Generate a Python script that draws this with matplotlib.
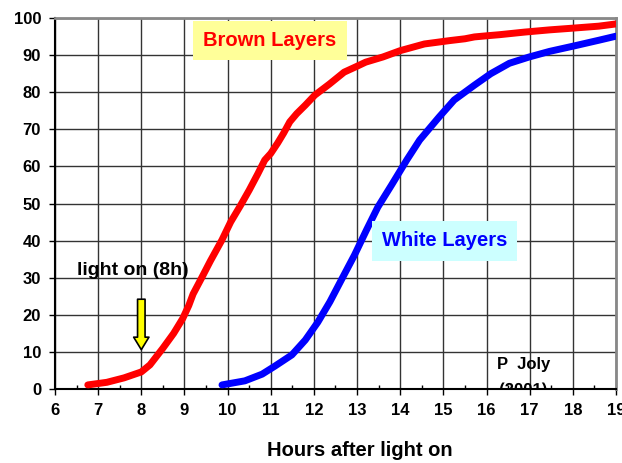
import matplotlib
matplotlib.use("Agg")
import matplotlib.pyplot as plt
from matplotlib.ticker import MultipleLocator
from matplotlib.textpath import TextPath
from matplotlib.patches import PathPatch
from matplotlib.font_manager import FontProperties
from matplotlib import transforms

plt.rcParams['font.family'] = ['Liberation Sans', 'DejaVu Sans']
plt.rcParams['font.weight'] = 'bold'

# hours after light on vs % of laying
brown_h = [6.76, 7.2, 7.6, 8.0, 8.2, 8.5, 8.75, 8.96, 9.1, 9.2, 9.4, 9.6, 9.87,
           10.07, 10.3, 10.5, 10.7, 10.86, 11.0, 11.16, 11.3, 11.44, 11.6, 11.8,
           12.02, 12.36, 12.7, 13.0, 13.2, 13.6, 14.0, 14.56, 15.14, 15.5, 15.72,
           16.0, 16.3, 16.88, 17.46, 18.04, 18.6, 19.0]
brown_pct = [1.1, 1.8, 3.0, 4.6, 6.5, 11.0, 15.0, 19.0, 22.5, 25.6, 30.0, 34.5, 40.2,
             45.0, 49.5, 53.6, 58.0, 61.7, 63.5, 66.3, 69.0, 72.0, 74.2, 76.5,
             79.2, 82.2, 85.4, 87.0, 88.1, 89.5, 91.2, 93.0, 93.9, 94.4, 94.9,
             95.2, 95.5, 96.2, 96.8, 97.3, 97.8, 98.4]

white_h = [9.87, 10.4, 10.8, 11.1, 11.49, 11.8, 12.09, 12.37, 12.64, 12.94, 13.22,
           13.48, 13.8, 14.15, 14.45, 14.9, 15.25, 15.72, 16.1, 16.53, 16.99,
           17.46, 18.04, 18.6, 19.0]
white_pct = [1.1, 2.2, 4.0, 6.2, 9.2, 13.2, 18.0, 23.5, 29.5, 36.1, 42.9,
             49.0, 55.0, 61.7, 67.1, 73.3, 77.9, 81.9, 85.0, 87.8, 89.5,
             91.0, 92.5, 94.0, 95.1]

fig = plt.figure(figsize=(6.22, 4.63), dpi=100)
ax = fig.add_axes([55 / 622, 1 - 389 / 463, 561 / 622, 371 / 463])

ax.plot(brown_h, brown_pct, color='#ff0000', lw=5, solid_capstyle='round', zorder=3)
ax.plot(white_h, white_pct, color='#0000ff', lw=5, solid_capstyle='round', zorder=3)

ax.set_xlim(6, 19)
ax.set_ylim(0, 100)
ax.xaxis.set_major_locator(MultipleLocator(1))
ax.xaxis.set_minor_locator(MultipleLocator(0.5))
ax.yaxis.set_major_locator(MultipleLocator(10))
ax.grid(True, which='major', color='#333333', lw=1)
ax.set_axisbelow(True)

for s in ['top', 'right']:
    ax.spines[s].set_color('#888888')
    ax.spines[s].set_linewidth(2)
for s in ['left', 'bottom']:
    ax.spines[s].set_color('black')
    ax.spines[s].set_linewidth(1.5)

ax.tick_params(axis='x', which='major', direction='out', length=4, width=1,
               labelsize=12, pad=6)
ax.tick_params(axis='x', which='minor', direction='in', length=3, width=1)
ax.tick_params(axis='y', direction='out', length=4, width=1, labelsize=12, pad=6)
for lab in ax.get_xticklabels() + ax.get_yticklabels():
    lab.set_fontweight('bold')

fig.text(360 / 622, 1 - 451 / 463, 'Hours after light on', fontsize=14.5,
         fontweight='bold', ha='center', va='center')

ax.text(10.98, 94, 'Brown Layers', color='#ff0000', fontsize=14.5, fontweight='bold',
        ha='center', va='center',
        bbox=dict(boxstyle='square,pad=0.5', fc='#ffff99', ec='none'), zorder=4)
ax.text(15.03, 39.9, 'White Layers', color='#0000ff', fontsize=14.5, fontweight='bold',
        ha='center', va='center',
        bbox=dict(boxstyle='square,pad=0.5', fc='#ccffff', ec='none'), zorder=4)
ax.text(7.8, 32, 'light on (8h)', color='black', fontsize=14, fontweight='bold',
        ha='center', va='center', zorder=4)
ax.annotate('', xy=(8, 10.6), xytext=(8, 24.2),
            arrowprops=dict(arrowstyle='simple,head_length=0.45,head_width=0.55,tail_width=0.27',
                            mutation_scale=20, fc='#ffff00', ec='black', lw=1.2,
                            shrinkA=0, shrinkB=0), zorder=4)

# signature; the year line is cut by the x axis as in the original
ax.text(16.85, 6.5, 'P  Joly', color='black', fontsize=12, fontweight='bold',
        ha='center', va='center', zorder=4)
fp = FontProperties(family='Liberation Sans', weight='bold')
tp = TextPath((0, 0), '(2001)', size=12, prop=fp)
ext = tp.get_extents()
tr = (transforms.Affine2D().translate(-(ext.x0 + ext.x1) / 2, 0).scale(fig.dpi / 72)
      + transforms.ScaledTranslation(16.85, -1.5, ax.transData))
year = PathPatch(tp, fc='black', ec='none', transform=tr, zorder=2)
ax.add_patch(year)
year.set_clip_path(ax.patch)
ax.set_xlim(6, 19)
ax.set_ylim(0, 100)

fig.savefig('out.png', dpi=100)
